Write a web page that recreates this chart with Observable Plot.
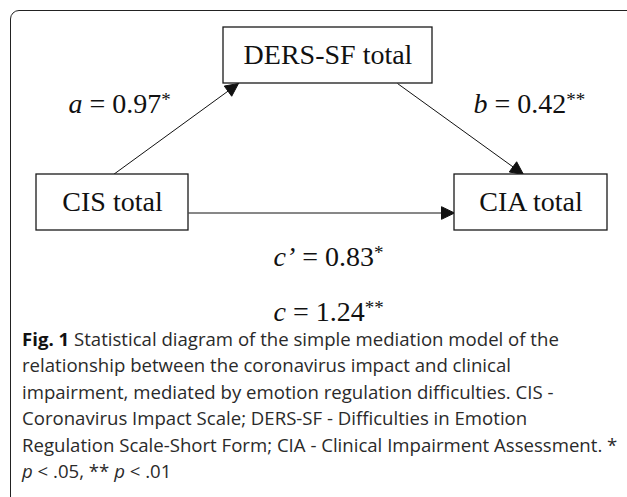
<!DOCTYPE html>
<html>
<head>
<meta charset="utf-8">
<script src="https://cdn.jsdelivr.net/npm/d3@7"></script>
<script src="https://cdn.jsdelivr.net/npm/@observablehq/plot@0.6"></script>
<style>
  html, body { margin: 0; padding: 0; background: #fff; }
  #wrap { position: relative; width: 627px; height: 497px; overflow: hidden; background: #fff; }
  #frame { position: absolute; left: 10px; top: 10px; width: 626px; height: 496px;
           border: 1.5px solid #222; border-radius: 9px; box-sizing: border-box; }
  #chart { position: absolute; left: 0; top: 0; }
  #caption { position: absolute; left: 22px; top: 326px; font-family: "Open Sans", sans-serif;
             font-size: 18.6px; line-height: 26.4px; color: #2a2a2a; white-space: nowrap; }
  #caption b { font-weight: 700; color: #111; }
</style>
</head>
<body>
<div id="wrap">
  <div id="frame"></div>
  <div id="chart"></div>
  <div id="caption"></div>
</div>
<script>
// ---- data ----
const nodeNames = ["CIS total", "DERS-SF total", "CIA total"];
const pathLetters = ["a", "b", "c\u2019", "c"];
const pathCoefs = [0.97, 0.42, 0.83, 1.24];
const pathStars = ["*", "**", "*", "**"];
const pathFrom = ["CIS total", "DERS-SF total", "CIS total", null];
const pathTo = ["DERS-SF total", "CIA total", "CIA total", null];
const captionTitle = "Fig. 1";
const captionLines = [
  " Statistical diagram of the simple mediation model of the",
  "relationship between the coronavirus impact and clinical",
  "impairment, mediated by emotion regulation difficulties. CIS -",
  "Coronavirus Impact Scale; DERS-SF - Difficulties in Emotion",
  "Regulation Scale-Short Form; CIA - Clinical Impairment Assessment. *"
];
const captionLast = [["p", true], [" < .05, ** ", false], ["p", true], [" < .01", false]];

// ---- layout (diagram geometry, kept apart from the values) ----
const boxLayout = {
  "CIS total":     {x1: 36,  x2: 188, y1: 174, y2: 230},
  "DERS-SF total": {x1: 223, x2: 432, y1: 27,  y2: 83},
  "CIA total":     {x1: 454, x2: 607, y1: 174, y2: 230}
};
const edgeLayout = [
  {x1: 113, y1: 174,   x2: 238, y2: 83},
  {x1: 397, y1: 83,    x2: 523, y2: 174},
  {x1: 188, y1: 212.5, x2: 454, y2: 212.5}
];
const labelLayout = [
  {x: 68, y: 112}, {x: 473, y: 112}, {x: 273, y: 265}, {x: 273, y: 320}
];
const W = 627, H = 325;
const serif = "Liberation Serif, Times New Roman, serif";

const boxes = nodeNames.map(n => ({name: n, ...boxLayout[n]}));
const edges = pathFrom.map((f, i) => f ? ({from: f, to: pathTo[i], ...edgeLayout[i]}) : null).filter(Boolean);
const labels = pathLetters.map((l, i) => ({
  letter: l, coef: pathCoefs[i].toFixed(2), stars: pathStars[i],
  text: `${l} = ${pathCoefs[i].toFixed(2)}${pathStars[i]}`, ...labelLayout[i]
}));

// arrowheads as filled triangles at each edge end
const headLen = 13, headHalf = 6.3;
const heads = [];
edges.forEach((e, i) => {
  const dx = e.x2 - e.x1, dy = e.y2 - e.y1, len = Math.hypot(dx, dy);
  const ux = dx / len, uy = dy / len, px = -uy, py = ux;
  const bx = e.x2 - ux * headLen, by = e.y2 - uy * headLen;
  heads.push({id: i, x: e.x2, y: e.y2});
  heads.push({id: i, x: bx + px * headHalf, y: by + py * headHalf});
  heads.push({id: i, x: bx - px * headHalf, y: by - py * headHalf});
  heads.push({id: i, x: e.x2, y: e.y2});
});
const shafts = edges.map(e => {
  const dx = e.x2 - e.x1, dy = e.y2 - e.y1, len = Math.hypot(dx, dy);
  return {...e, x2: e.x2 - dx / len * (headLen - 2), y2: e.y2 - dy / len * (headLen - 2)};
});

const svg = Plot.plot({
  width: W, height: H, margin: 0,
  x: {domain: [0, W], range: [0, W], axis: null},
  y: {domain: [0, H], range: [0, H], axis: null},
  style: {background: "transparent", overflow: "visible"},
  marks: [
    Plot.link(shafts, {x1: "x1", y1: "y1", x2: "x2", y2: "y2", stroke: "#111", strokeWidth: 1}),
    Plot.line(heads, {x: "x", y: "y", z: "id", fill: "#111", stroke: "#111", strokeWidth: 1, curve: "linear-closed"}),
    Plot.rect(boxes, {x1: "x1", x2: "x2", y1: "y1", y2: "y2", fill: "white", stroke: "#1a1a1a", strokeWidth: 1.3}),
    Plot.text(boxes, {x: d => (d.x1 + d.x2) / 2, y: d => (d.y1 + d.y2) / 2, text: "name",
      fontSize: 28, fontFamily: serif, fill: "#111"}),
    Plot.text(labels, {x: "x", y: "y", text: "text", textAnchor: "start", lineAnchor: "bottom",
      fontSize: 28, fontFamily: serif, fill: "#111"})
  ]
});

// rich-text the path labels: italic letter, superscript stars
const byText = new Map(labels.map(l => [l.text, l]));
d3.select(svg).selectAll("text").each(function () {
  const l = byText.get(this.textContent);
  if (!l) return;
  const t = d3.select(this);
  t.text(null);
  t.append("tspan").attr("font-style", "italic").text(l.letter);
  t.append("tspan").text(` = ${l.coef}`);
  t.append("tspan").attr("font-size", 19).attr("dy", -7).text(l.stars);
});
document.getElementById("chart").appendChild(svg);

// caption
const cap = d3.select("#caption");
cap.append("b").text(captionTitle);
captionLines.forEach((line, i) => {
  cap.append("span").text(line);
  cap.append("br");
});
captionLast.forEach(([s, it]) => cap.append(it ? "i" : "span").text(s));
</script>
</body>
</html>
